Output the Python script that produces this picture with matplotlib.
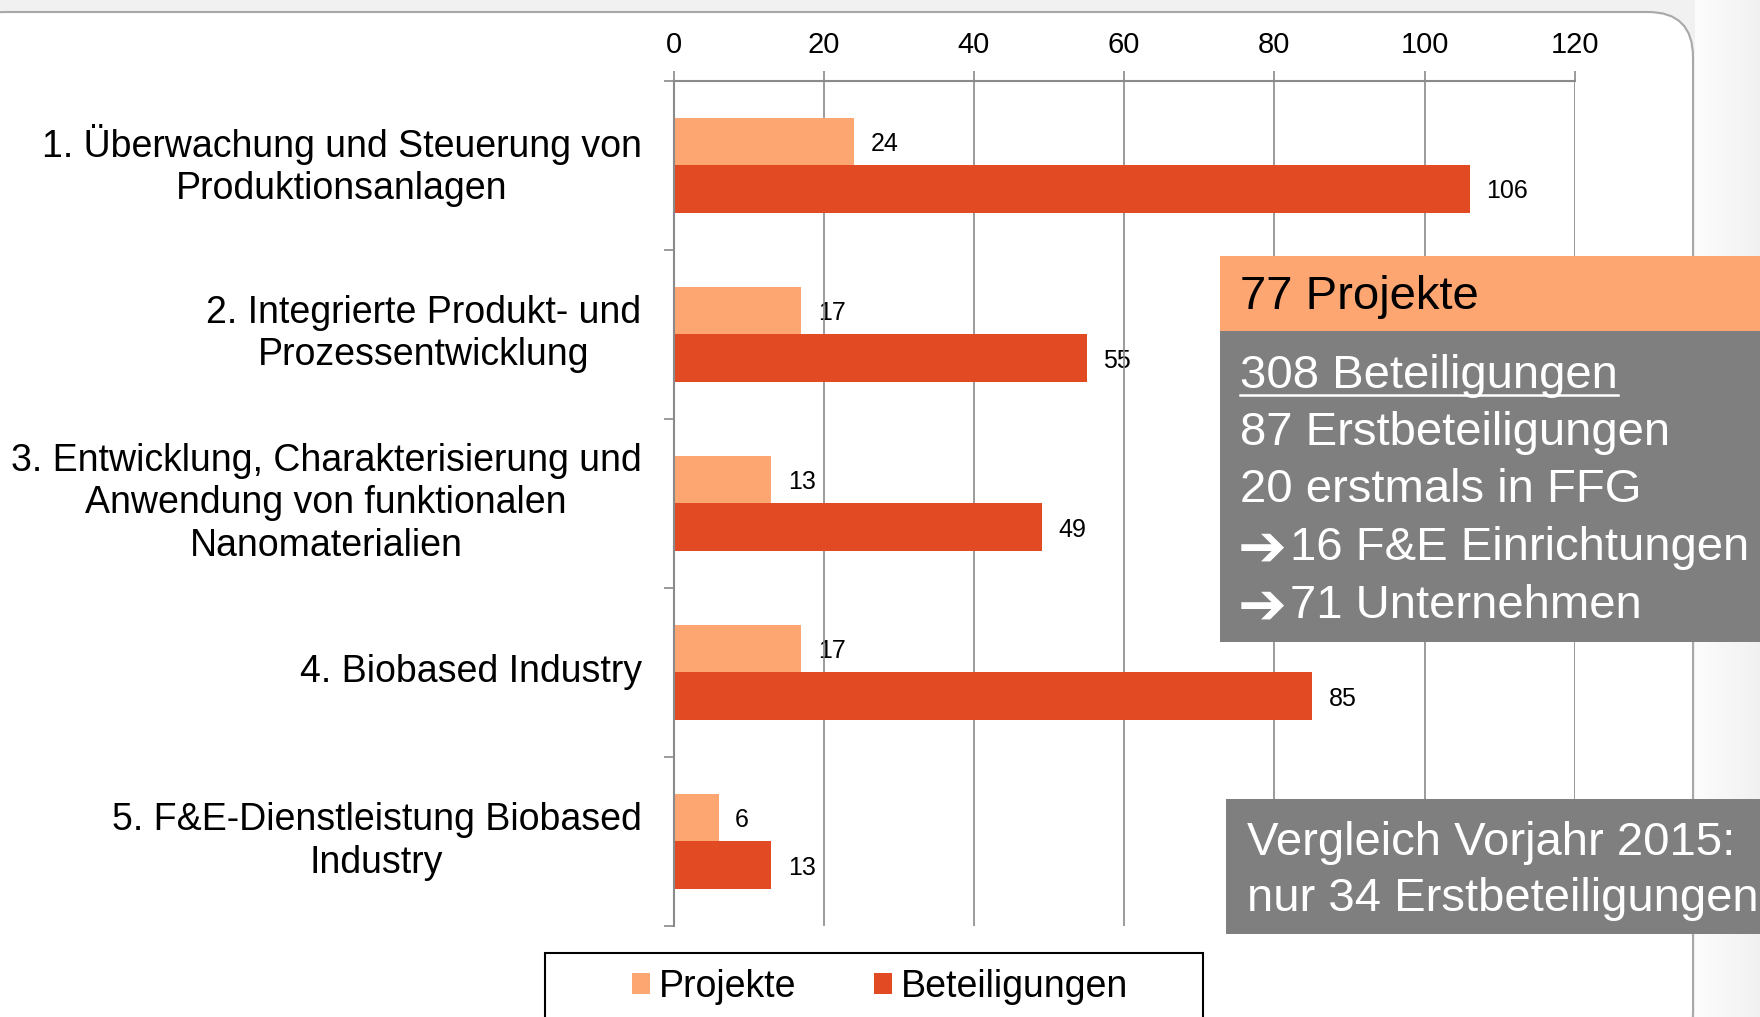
import numpy as np
import matplotlib
matplotlib.use("Agg")
import matplotlib.pyplot as plt
from matplotlib.patches import Rectangle, FancyBboxPatch
from matplotlib.lines import Line2D
from matplotlib.transforms import IdentityTransform

# Data
categories = ["1. Überwachung und Steuerung von\nProduktionsanlagen",
              "2. Integrierte Produkt- und\nProzessentwicklung",
              "3. Entwicklung, Charakterisierung und\nAnwendung von funktionalen\nNanomaterialien",
              "4. Biobased Industry",
              "5. F&E-Dienstleistung Biobased\nIndustry"]
projekte = [24, 17, 13, 17, 6]
beteiligungen = [106, 55, 49, 85, 13]
series_names = ["Projekte", "Beteiligungen"]

summary_head = "77 Projekte"
summary_lines = ["308 Beteiligungen", "87 Erstbeteiligungen", "20 erstmals in FFG",
                 "16 F&E Einrichtungen", "71 Unternehmen"]
summary_arrow = [False, False, False, True, True]
compare_lines = ["Vergleich Vorjahr 2015:", "nur 34 Erstbeteiligungen"]

LIGHT = "#FDA672"
DARK = "#E24A24"
BOXGRAY = "#7F7F7F"
GRID = "#8A8A8A"

W, H = 1760, 1017
plt.rcParams['font.family'] = ['Liberation Sans', 'DejaVu Sans']


def fx(px):
    return px / W


def fy(py):
    # py measured from the top of the image
    return 1 - py / H


fig = plt.figure(figsize=(W / 100, H / 100), dpi=100)
fig.patch.set_facecolor("#F1F1F1")

# slide background: white panel with a rounded top-right corner
frame = FancyBboxPatch((-40, -40), 1693 + 40, (H - 12) + 40,
                       boxstyle="round,pad=0,rounding_size=45",
                       transform=IdentityTransform(), facecolor="white",
                       edgecolor="#A8A8A8", linewidth=1.5, zorder=-0.5)
fig.patches.append(frame)

# light gradient right of the panel
grad = np.linspace(0.99, 0.945, W - 1695)
img = np.tile(grad, (H, 1))[:, :, None].repeat(3, axis=2)
fig.figimage(img, xo=1695, yo=0, zorder=-1)

# Chart area
ax = fig.add_axes([fx(673.5), fy(926), fx(1574.8 - 673.5), (926 - 80.8) / H])
ax.set_facecolor("none")

y = np.arange(len(categories))
bar_h = 0.28
b1 = ax.barh(y - bar_h / 2, projekte, height=bar_h, color=LIGHT,
             label=series_names[0], zorder=2)
b2 = ax.barh(y + bar_h / 2, beteiligungen, height=bar_h, color=DARK,
             label=series_names[1], zorder=2)

# value labels sit behind the grid lines, like in the original
for bars in (b1, b2):
    for t in ax.bar_label(bars, padding=12, fontsize=18, zorder=0.4):
        t.set_verticalalignment('center_baseline')

ax.set_xlim(0, 120)
ax.set_ylim(len(categories) - 0.5, -0.5)
ax.set_xticks(range(0, 121, 20))
ax.xaxis.tick_top()
ax.tick_params(axis='x', which='major', direction='out', length=7, width=1.2,
               color=GRID, labelsize=21, pad=9)

ax.set_yticks(y)
ax.set_yticklabels(categories, fontsize=27, linespacing=1.22)
for lab in ax.get_yticklabels():
    lab.set_multialignment('center')
    lab.set_verticalalignment('center')
ax.set_yticks(np.arange(-0.5, len(categories), 1.0), minor=True)
ax.tick_params(axis='y', which='major', length=0, pad=23)
ax.tick_params(axis='y', which='minor', direction='out', length=7, width=1.2,
               color=GRID)

ax.set_axisbelow(True)
ax.grid(axis='x', color=GRID, linewidth=1.2)
for side in ['bottom', 'right']:
    ax.spines[side].set_visible(False)
for side in ['top', 'left']:
    ax.spines[side].set_color(GRID)
    ax.spines[side].set_linewidth(1.5)

# Legend with square frame running off the bottom
fig.patches.append(Rectangle((545, -10), 1203 - 545, (H - 953) + 10,
                             transform=IdentityTransform(), facecolor="white",
                             edgecolor="black", linewidth=1.5, zorder=1))
fig.legend(handles=[b1, b2], loc='center', bbox_to_anchor=(fx(880), fy(987)),
           ncol=2, frameon=False, fontsize=27, handlelength=0.48,
           handleheight=0.48, handletextpad=0.25, columnspacing=2.05)

# Summary boxes on the right
fig.patches.append(Rectangle((fx(1220), fy(331)), 1 - fx(1220), (331 - 256) / H,
                             transform=fig.transFigure, facecolor=LIGHT,
                             edgecolor="none", zorder=5))
fig.patches.append(Rectangle((fx(1220), fy(642)), 1 - fx(1220), (642 - 331) / H,
                             transform=fig.transFigure, facecolor=BOXGRAY,
                             edgecolor="none", zorder=5))
fig.patches.append(Rectangle((fx(1226), fy(934)), 1 - fx(1226), (934 - 799) / H,
                             transform=fig.transFigure, facecolor=BOXGRAY,
                             edgecolor="none", zorder=5))

fig.text(fx(1240), fy(297), summary_head, fontsize=34, color="black",
         va='center', ha='left', zorder=6)
line_tops = [376, 433, 490, 548, 606]
texts = []
for txt, py, arrow in zip(summary_lines, line_tops, summary_arrow):
    x0 = 1240
    if arrow:
        # heavy arrow drawn on its own so it can be bold
        fig.text(fx(1238), fy(py + 1), "\u2794", fontsize=42, color="white",
                 family="DejaVu Sans", weight="bold", va='center', ha='left',
                 zorder=6)
        x0 = 1290
    texts.append(fig.text(fx(x0), fy(py), txt, fontsize=34, color="white",
                          va='center', ha='left', zorder=6))
for txt, py in zip(compare_lines, [843, 899]):
    fig.text(fx(1247), fy(py), txt, fontsize=34, color="white",
             va='center', ha='left', zorder=6)

# underline the first line of the grey box
renderer = fig.canvas.get_renderer()
bb = texts[0].get_window_extent(renderer)
fig.lines.append(Line2D([bb.x0, bb.x1], [H - 395, H - 395],
                        transform=IdentityTransform(), color="white",
                        linewidth=1.8, zorder=7))

fig.savefig("out.png", dpi=100)
